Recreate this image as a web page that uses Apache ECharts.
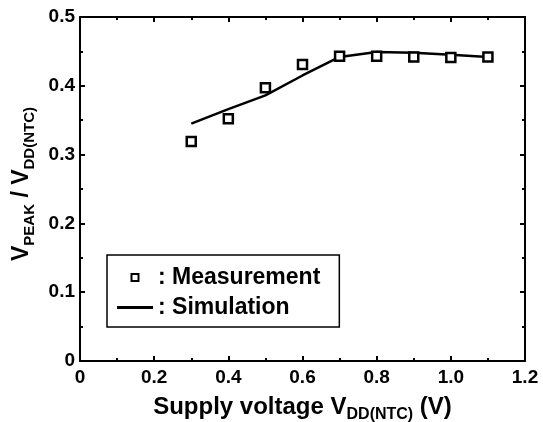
<!DOCTYPE html>
<html>
<head>
<meta charset="utf-8">
<script src="https://cdn.jsdelivr.net/npm/echarts@6/dist/echarts.min.js"></script>
<style>html,body{margin:0;padding:0;background:#fff}#c{width:543px;height:422px}</style>
</head>
<body>
<div id="c"></div>
<script>
var measX = [0.3, 0.4, 0.5, 0.6, 0.7, 0.8, 0.9, 1.0, 1.1];
var measY = [0.319, 0.352, 0.397, 0.431, 0.443, 0.443, 0.442, 0.441, 0.442];
var simX = [0.3, 0.4, 0.5, 0.6, 0.7, 0.8, 0.9, 1.0, 1.1];
var simY = [0.345, 0.366, 0.386, 0.415, 0.442, 0.449, 0.448, 0.445, 0.442];
var xTicks = [0, 0.2, 0.4, 0.6, 0.8, 1.0, 1.2];
var yTicks = [0, 0.1, 0.2, 0.3, 0.4, 0.5];

var FONT = 'Arial, "Liberation Sans", sans-serif';
function fmt(v) { return v === 0 ? '0' : v.toFixed(1); }

var chart = echarts.init(document.getElementById('c'));
var axisCommon = {
  axisLine: { show: true, onZero: false, lineStyle: { color: '#000', width: 2 } },
  axisTick: { show: true, inside: true, length: 5, lineStyle: { color: '#000', width: 2 } },
  minorTick: { show: true, splitNumber: 2, length: 3, lineStyle: { color: '#000', width: 2 } },
  splitLine: { show: false },
  minorSplitLine: { show: false }
};
function mk(base, extra) { return Object.assign({}, JSON.parse(JSON.stringify(base)), extra); }

var richX = {
  m: { fontSize: 24, fontWeight: 'bold', fontFamily: FONT, color: '#000' },
  s: { fontSize: 16, fontWeight: 'bold', fontFamily: FONT, color: '#000', padding: [16, 0, 0, 0] }
};
var richY = {
  m: { fontSize: 23, fontWeight: 'bold', fontFamily: FONT, color: '#000' },
  s: { fontSize: 15, fontWeight: 'bold', fontFamily: FONT, color: '#000', padding: [15, 0, 0, 0] }
};

chart.setOption({
  animation: false,
  backgroundColor: '#fff',
  grid: { left: 80, right: 18, top: 17, bottom: 61, containLabel: false, outerBoundsMode: 'none' },
  xAxis: [
    mk(axisCommon, {
      type: 'value', min: xTicks[0], max: xTicks[xTicks.length - 1], interval: 0.2,
      position: 'bottom',
      axisLabel: { fontSize: 19, fontWeight: 'bold', fontFamily: FONT, color: '#000', margin: 7, formatter: fmt },
      name: '{m|Supply voltage V}{s|DD(NTC)}{m| (V)}',
      nameLocation: 'middle', nameGap: 30,
      nameTextStyle: { rich: richX }
    }),
    mk(axisCommon, {
      type: 'value', min: xTicks[0], max: xTicks[xTicks.length - 1], interval: 0.2,
      position: 'top', axisLabel: { show: false }
    })
  ],
  yAxis: [
    mk(axisCommon, {
      type: 'value', min: yTicks[0], max: yTicks[yTicks.length - 1], interval: 0.1,
      position: 'left',
      axisLabel: { fontSize: 19, fontWeight: 'bold', fontFamily: FONT, color: '#000', margin: 5, formatter: fmt },
      name: '{m|V}{s|PEAK}{m| / V}{s|DD(NTC)}',
      nameLocation: 'middle', nameGap: 43,
      nameTextStyle: { rich: richY, padding: [0, 0, 0, 10] }
    }),
    mk(axisCommon, {
      type: 'value', min: yTicks[0], max: yTicks[yTicks.length - 1], interval: 0.1,
      position: 'right', axisLabel: { show: false }
    })
  ],
  legend: {
    orient: 'vertical', left: 107, top: 255,
    itemWidth: 36, itemHeight: 7, itemGap: 7,
    padding: [11, 19, 8, 10],
    borderColor: '#000', borderWidth: 1.5, borderRadius: 0,
    backgroundColor: '#fff',
    formatter: ': {name}',
    textStyle: { fontSize: 23, fontWeight: 'bold', fontFamily: FONT, color: '#000' },
    data: [
      { name: 'Measurement', icon: 'path://M0,0H10V10H0Z', itemStyle: { color: '#fff', borderColor: '#000', borderWidth: 2 } },
      { name: 'Simulation', icon: 'path://M0,0H36V3H0Z', itemStyle: { color: '#000', borderWidth: 0 } }
    ]
  },
  series: [
    {
      name: 'Simulation', type: 'line', xAxisIndex: 0, yAxisIndex: 0,
      symbol: 'none', showSymbol: false, z: 2,
      lineStyle: { color: '#000', width: 2.5 },
      itemStyle: { color: '#000' },
      data: simX.map(function (x, i) { return [x, simY[i]]; })
    },
    {
      name: 'Measurement', type: 'scatter', xAxisIndex: 0, yAxisIndex: 0,
      symbol: 'rect', symbolSize: 9, z: 3,
      itemStyle: { color: '#fff', borderColor: '#000', borderWidth: 2.5, opacity: 1 },
      data: measX.map(function (x, i) { return [x, measY[i]]; })
    }
  ]
});
</script>
</body>
</html>
